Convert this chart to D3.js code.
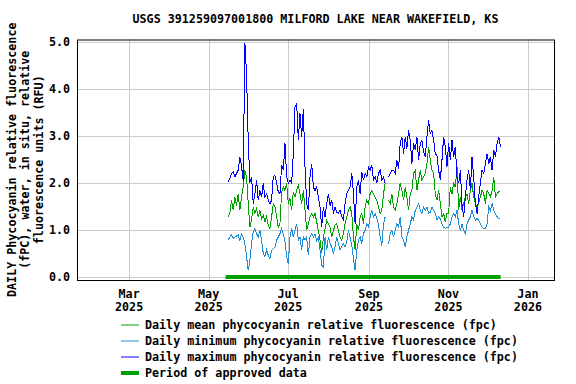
<!DOCTYPE html>
<html>
<head>
<meta charset="utf-8">
<script src="https://cdn.jsdelivr.net/npm/d3@7"></script>
<style>
  body { margin: 0; background: #fff; }
  text { font-family: "DejaVu Sans Mono", monospace; font-weight: bold; font-size: 11.7px; fill: #000; }
</style>
</head>
<body>
<div class="chart"></div>
<script>
const title = 'USGS 391259097001800 MILFORD LAKE NEAR WAKEFIELD, KS';
const yTitle = ['DAILY Phycocyanin relative fluorescence', '(fPC), water, in situ, relative', 'fluorescence units (RFU)'];
const yTicks = [0, 1, 2, 3, 4, 5];
const legendLabels = [
  'Daily mean phycocyanin relative fluorescence (fpc)',
  'Daily minimum phycocyanin relative fluorescence (fpc)',
  'Daily maximum phycocyanin relative fluorescence (fpc)',
  'Period of approved data'
];
const colors = ['#00a000', '#1e8fd6', '#0000ff', '#00a000'];

// readings taken every ~1.28 days from May 16
const firstSample = new Date(Date.UTC(2025, 4, 16));
const sampleStepDays = 1.2815;
const approved = [new Date(Date.UTC(2025, 4, 14)), new Date(Date.UTC(2025, 11, 11))];

const meanVals = [
  1.28, 1.35, 1.63, 1.42, 1.70, 1.52, 1.77, 1.42, 1.70, 1.91, 2.27, 2.13, 1.56, 1.06, 1.21, 1.49, 1.35, 1.45, 1.28, 1.42, 1.24, 1.31, 1.17, 1.28, 1.10, 1.03, 1.28, 1.56, 1.49, 1.28, 1.06, 1.13,
  1.81, 1.91, 1.84, 1.99, 1.56, 1.67, 1.42, 1.81, 1.70, 1.84, 1.95, 1.77, 1.56, 1.84, 1.42, 0.99, 1.13, 1.28, 1.35, 1.28, 1.35, 1.17, 0.99, 0.78, 0.50, 0.85, 1.03, 1.21, 1.13, 1.06, 0.85, 0.99, 1.10,
  1.13, 0.99, 0.85, 0.78, 0.92, 1.13, 1.28, 1.42, 1.49, 1.35, 0.85, 0.57, 1.13, 0.99, 1.28, 1.35, 1.13, 1.49, 1.63, 1.56, 1.77, 1.84, 1.77, 1.70, 1.63, 1.49, 1.35, 1.42, 1.77, 1.99, null, 1.63, 1.56, 1.77,
  1.49, 1.42, 1.56, 1.77, 1.99, 1.84, 1.63, 1.91, 1.70, 1.42, 1.77, 1.84, 2.20, 2.27, 1.84, 2.06, 2.27, 2.06, 2.13, 2.20, 2.41, 2.77, 2.48, 2.27, 2.20, 1.77, 1.63, 1.84, 1.56, 1.28, 1.35, 1.17, 1.35,
  1.35, 1.91, 1.77, 1.99, 1.91, 2.34, 1.42, 1.70, 1.42, 1.56, 1.70, 1.77, 1.56, 1.84, 1.99, 1.70, 1.56, 1.49, 1.56, 1.70, 1.84, 1.77, 1.56, 1.84, 1.77, 1.70, 1.84, 2.13, 1.70, 1.77, 1.81, 1.81
];
const minVals = [
  0.78, 0.85, 0.89, 0.82, 0.85, 0.87, 0.89, 0.78, 0.91, 0.85, 0.71, 0.43, 0.14, 0.35, 0.71, 0.96, 1.03, 0.92, 0.85, 0.99, 0.78, 0.50, 0.43, 0.57, 0.46, 0.39, 0.57, 0.60, 0.64, 0.78, 0.85, 0.92,
  1.03, 0.92, 0.75, 0.43, 0.28, 0.85, 1.03, 0.85, 0.99, 1.13, 0.78, 0.85, 0.57, 0.85, 0.78, 0.85, 0.46, 0.85, 0.92, 0.85, 0.92, 0.78, 0.85, 0.57, 0.25, 0.21, 0.85, 0.57, 0.85, 0.71, 0.64, 0.50, 0.64,
  0.85, 0.71, 0.57, 0.64, 0.71, 0.64, 0.74, 0.99, 0.85, 0.67, 0.39, 0.14, 0.57, 0.78, 0.85, 0.71, 0.92, 0.99, 1.13, 1.06, 1.28, 1.42, 1.28, 1.35, 1.24, 1.10, 0.85, 0.67, 1.13, 1.28, null, 0.71, 0.92, 0.99,
  0.85, 0.99, 1.13, 1.06, 1.28, 0.85, 0.78, 0.64, 0.85, 0.99, 1.13, 1.28, 1.21, 1.42, 1.49, 1.56, 1.42, 1.35, 1.49, 1.42, 1.49, 1.35, 1.38, 1.49, 1.42, 1.35, 1.21, 1.28, 1.24, 1.13, 1.06, 1.03, 1.06,
  1.06, 1.13, 1.28, 1.35, 1.28, 1.42, 1.13, 0.99, 1.13, 0.99, 0.92, 1.13, 1.21, 1.28, 1.42, 1.28, 1.21, 1.24, 1.21, 1.13, 1.06, 1.03, 1.03, 1.13, 1.49, 1.42, 1.56, 1.42, 1.35, 1.28, 1.24, 1.26
];
const maxVals = [
  2.02, 2.09, 2.20, 2.23, 2.13, 2.20, 2.27, 2.55, 2.35, 2.05, 4.98, 4.30, 2.90, 2.00, 2.13, 1.56, 1.77, 2.06, 1.63, 1.84, 1.70, 1.99, 1.70, 1.77, 1.63, 1.56, 1.63, 2.13, 2.16, 1.99, 1.81, 1.77,
  2.38, 2.27, 2.84, 2.13, 1.99, 2.06, 1.99, 2.62, 3.62, 3.69, 2.91, 3.48, 2.98, 3.58, 2.34, 1.56, 1.42, 2.13, 2.41, 1.91, 1.84, 1.91, 1.70, 1.49, 1.06, 1.49, 1.28, 1.56, 1.77, 1.52, 1.63, 1.35, 1.49,
  1.38, 1.35, 1.42, 1.28, 1.21, 1.56, 1.77, 1.84, 1.91, 2.20, 1.77, 1.13, 1.91, 2.06, 1.77, 2.23, 2.06, 2.20, 2.13, 2.34, 2.27, 2.38, 2.06, 2.13, 1.99, 2.20, 2.27, 2.06, 2.13, 1.99, null, 2.13, 2.20, 2.27,
  2.27, 2.20, 2.48, 2.30, 2.84, 2.98, 2.62, 2.98, 2.73, 3.12, 2.91, 2.41, 2.84, 2.70, 2.98, 2.48, 2.84, 2.91, 2.66, 2.55, 2.98, 3.33, 3.05, 3.12, 2.91, 2.62, 2.59, 2.27, 2.06, 2.48, 2.98, 2.77, 2.34,
  2.84, 2.48, 2.91, 2.55, 2.77, 2.13, 1.99, 2.27, 1.56, 1.28, 1.70, 2.06, 2.27, 1.84, 2.55, 2.13, 1.56, 1.35, 1.70, 1.99, 2.27, 2.20, 2.41, 2.62, 2.41, 2.55, 2.27, 2.70, 2.55, 2.84, 2.98, 2.77
];

const plotLeft = 77, plotRight = 554, plotTop = 39.5, plotBottom = 280;

let svg = d3.select('.chart').append('svg').attr('width', 576).attr('height', 384);

let x = d3.scaleUtc()
  .domain([new Date(Date.UTC(2025, 0, 20)), new Date(Date.UTC(2026, 0, 21))])
  .range([plotLeft, plotRight]);
let y = d3.scaleLinear().domain([-0.065, 5.05]).range([plotBottom, plotTop]);

const dateAt = i => new Date(firstSample.getTime() + i * sampleStepDays * 864e5);

//gridlines
const monthTicks = x.ticks(d3.utcMonth.every(2));
svg.append('g').selectAll('line').data(monthTicks).enter().append('line')
  .attr('x1', d => Math.round(x(d)) + 0.5).attr('x2', d => Math.round(x(d)) + 0.5)
  .attr('y1', plotTop).attr('y2', plotBottom)
  .attr('stroke', '#cccccc');
svg.append('g').selectAll('line').data(yTicks).enter().append('line')
  .attr('x1', plotLeft).attr('x2', plotRight)
  .attr('y1', d => Math.round(y(d)) + 0.5).attr('y2', d => Math.round(y(d)) + 0.5)
  .attr('stroke', '#cccccc');

//series, step-ish pixel look like the original
let line = d3.line()
  .defined(d => d != null)
  .x((d, i) => x(dateAt(i)))
  .y(d => y(d));
[meanVals, minVals, maxVals].forEach((vals, k) => {
  svg.append('path')
    .attr('d', line(vals))
    .attr('fill', 'none')
    .attr('stroke', colors[k])
    .attr('stroke-width', 1)
    .attr('shape-rendering', 'crispEdges');
});

svg.append('line')
  .attr('x1', x(approved[0])).attr('x2', x(approved[1]))
  .attr('y1', y(0)).attr('y2', y(0))
  .attr('stroke', colors[3]).attr('stroke-width', 4);

svg.append('rect')
  .attr('x', plotLeft + 0.5).attr('y', plotTop + 0.5)
  .attr('width', plotRight - plotLeft).attr('height', plotBottom - plotTop)
  .attr('fill', 'none').attr('stroke', '#000');

//axes text
svg.append('g').selectAll('text').data(yTicks).enter().append('text')
  .attr('x', 70).attr('y', d => y(d)).attr('dy', '0.35em')
  .attr('text-anchor', 'end')
  .text(d => d3.format('.1f')(d));

let xl = svg.append('g').selectAll('text').data(monthTicks).enter().append('text')
  .attr('text-anchor', 'middle');
xl.append('tspan').attr('x', d => x(d)).attr('y', 298).text(d3.utcFormat('%b'));
xl.append('tspan').attr('x', d => x(d)).attr('y', 311).text(d3.utcFormat('%Y'));

svg.append('text')
  .attr('x', (plotLeft + plotRight) / 2).attr('y', 23)
  .attr('text-anchor', 'middle')
  .text(title);

svg.append('g').selectAll('text').data(yTitle).enter().append('text')
  .attr('transform', (d, i) => `translate(${11.5 + i * 13.5},${(plotTop + plotBottom) / 2}) rotate(-90)`)
  .attr('dy', '0.35em')
  .attr('text-anchor', 'middle')
  .text(d => d);

//legend
let leg = svg.append('g').selectAll('g').data(legendLabels).enter().append('g')
  .attr('transform', (d, i) => `translate(0,${325 + i * 16})`);
leg.append('line')
  .attr('x1', 121).attr('x2', 139)
  .attr('stroke', (d, i) => colors[i])
  .attr('stroke-width', (d, i) => i == 3 ? 4 : 1);
leg.append('text')
  .attr('x', 145).attr('dy', '0.35em')
  .text(d => d);
</script>
</body>
</html>
